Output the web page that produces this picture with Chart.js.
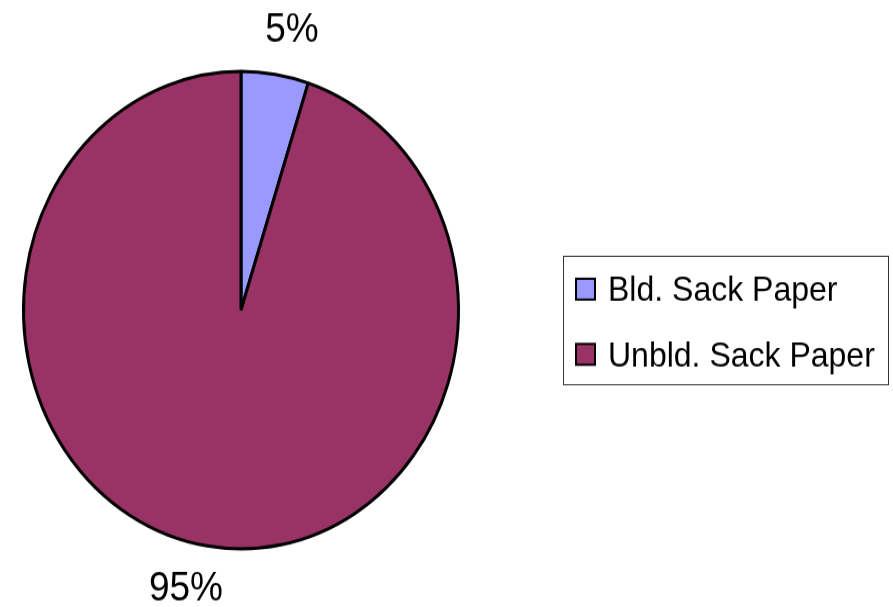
<!DOCTYPE html>
<html>
<head>
<meta charset="utf-8">
<title>Sack Paper</title>
<script src="https://cdn.jsdelivr.net/npm/chart.js@4/dist/chart.umd.min.js"></script>
<style>
    html, body { margin: 0; padding: 0; background: #fff; }
    html { overflow: hidden; }
    body { width: 893px; height: 607px; }
    /* the old chart was a bit taller than wide, so stretch the whole canvas */
    #wrap { width: 893px; height: 553px; transform: scaleY(1.0977); transform-origin: 0 0; }
</style>
</head>
<body>
<div id="wrap"><canvas id="myChart" width="893" height="553"></canvas></div>
<script>
const labels = ['Bld. Sack Paper', 'Unbld. Sack Paper'];
const shares = [5, 95];
const sliceColors = ['#9999FF', '#993366'];

const FONT = '"Liberation Sans", Arial, Helvetica, sans-serif';

// percentage labels outside each slice
const percentLabels = {
    id: 'percentLabels',
    afterDatasetsDraw(chart) {
        const { ctx } = chart;
        const meta = chart.getDatasetMeta(0);
        const total = shares.reduce((a, b) => a + b, 0);
        ctx.save();
        ctx.font = '37px ' + FONT;
        ctx.fillStyle = '#000';
        ctx.textAlign = 'center';
        ctx.textBaseline = 'middle';
        meta.data.forEach((arc, i) => {
            const p = arc.getProps(['x', 'y', 'startAngle', 'endAngle', 'outerRadius'], true);
            const mid = (p.startAngle + p.endAngle) / 2;
            const r = p.outerRadius + 40;
            const text = Math.round(shares[i] / total * 100) + '%';
            const w = ctx.measureText(text).width;
            const x = p.x + Math.cos(mid) * r + Math.sign(Math.cos(mid)) * w * 0.2;
            const y = p.y + Math.sin(mid) * r;
            ctx.fillText(text, x, y);
        });
        ctx.restore();
    }
};

// boxed legend on the right
const boxLegend = {
    id: 'boxLegend',
    afterDraw(chart) {
        const { ctx } = chart;
        const left = 563.5, top = 233.5, width = 325, height = 117;
        ctx.save();
        ctx.strokeStyle = '#333';
        ctx.lineWidth = 1;
        ctx.strokeRect(left, top, width, height);
        ctx.font = '32px ' + FONT;
        ctx.textBaseline = 'alphabetic';
        labels.forEach((name, i) => {
            const cy = 263.4 + i * 59.4;
            ctx.fillStyle = sliceColors[i];
            ctx.fillRect(576, cy - 9.5, 19, 19);
            ctx.strokeStyle = '#000';
            ctx.lineWidth = 2;
            ctx.strokeRect(576, cy - 9.5, 19, 19);
            ctx.fillStyle = '#000';
            ctx.fillText(name, 608, cy + 11);
        });
        ctx.restore();
    }
};

const ctx = document.getElementById('myChart').getContext('2d');
const chart = new Chart(ctx, {
    type: 'pie',
    data: {
        labels: labels,
        datasets: [{
            data: shares,
            backgroundColor: sliceColors,
            borderColor: '#000',
            borderWidth: 3
        }]
    },
    options: {
        responsive: false,
        animation: false,
        layout: {
            padding: { left: 22, right: 433, top: 63.5, bottom: 51.5 }
        },
        plugins: {
            legend: { display: false },
            tooltip: { enabled: false }
        }
    },
    plugins: [percentLabels, boxLegend]
});
</script>
</body>
</html>
